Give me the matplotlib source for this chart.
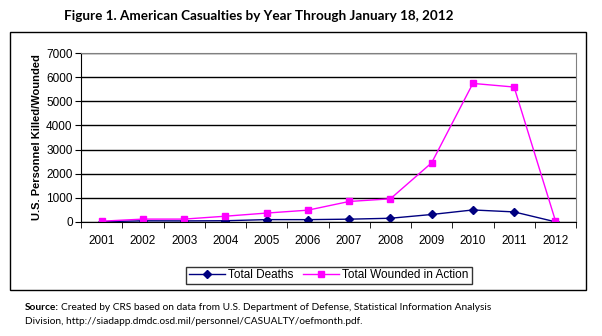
import matplotlib
matplotlib.use("Agg")
import matplotlib.pyplot as plt
from matplotlib.patches import Rectangle
import numpy as np

years = ["2001", "2002", "2003", "2004", "2005", "2006",
         "2007", "2008", "2009", "2010", "2011", "2012"]
deaths = [12, 49, 45, 52, 99, 98, 117, 155, 311, 499, 418, 8]
wounded = [33, 120, 120, 240, 370, 490, 850, 960, 2450, 5740, 5590, 60]
yticks = [0, 1000, 2000, 3000, 4000, 5000, 6000, 7000]

plt.rcParams['font.family'] = ['Liberation Sans', 'DejaVu Sans']

fig = plt.figure(figsize=(6.02, 3.36), dpi=100)
W, H = 602, 336

# outer frame around chart
fig.patches.append(Rectangle((10 / W, 1 - 290 / H), 576 / W, 258 / H,
                             transform=fig.transFigure, fill=False,
                             edgecolor="black", linewidth=1.0))

ax = fig.add_axes([81 / W, 1 - 222 / H, 495 / W, 169 / H])
x = np.arange(len(years))
ax.plot(x, deaths, color="#000080", marker="D", markersize=4,
        linewidth=1.0, label="Total Deaths")
ax.plot(x, wounded, color="#FF00FF", marker="s", markersize=5,
        linewidth=1.0, label="Total Wounded in Action")

ax.set_xlim(-0.5, len(years) - 0.5)
ax.set_ylim(0, 7000)
ax.set_yticks(yticks)
ax.set_yticklabels([str(v) for v in yticks], fontsize=8.5)
ax.set_xticks(x)
ax.set_xticklabels(years, fontsize=8.5)
ax.set_xticks(np.arange(-0.5, len(years)), minor=True)
ax.tick_params(axis="x", which="major", length=0, pad=9)
ax.tick_params(axis="x", which="minor", length=4, direction="out")
ax.tick_params(axis="y", length=4, direction="out", pad=2)
ax.yaxis.grid(True, color="black", linewidth=1.0)
ax.set_axisbelow(True)
for s in ["top", "right"]:
    ax.spines[s].set_color("#808080")
ax.set_ylabel("U.S. Personnel Killed/Wounded", fontsize=8, fontweight="bold",
              labelpad=3)

fig.legend(loc="center", bbox_to_anchor=(329 / W, 1 - 275.5 / H), ncol=2,
           fontsize=8.5, frameon=True, fancybox=False, edgecolor="black",
           handlelength=3.0, handletextpad=0.3, columnspacing=0.8,
           borderpad=0.25, borderaxespad=0)

fig.text(259 / W, 1 - 16 / H,
         "Figure 1. American Casualties by Year Through January 18, 2012",
         ha="center", va="center", fontsize=9.7, fontweight="bold",
         family=["Lato", "DejaVu Sans"])

fig.text(25 / W, 1 - 308 / H, "Source:", ha="left", va="center",
         fontsize=7.3, fontweight="bold", family=["Lato", "DejaVu Sans"])
fig.text(61 / W, 1 - 308 / H,
         "Created by CRS based on data from U.S. Department of Defense, "
         "Statistical Information Analysis",
         ha="left", va="center", fontsize=7.3, family=["Lato", "DejaVu Sans"])
fig.text(25 / W, 1 - 322 / H,
         "Division, http://siadapp.dmdc.osd.mil/personnel/CASUALTY/oefmonth.pdf.",
         ha="left", va="center", fontsize=7.3, family=["Lato", "DejaVu Sans"])

fig.savefig("out.png", dpi=100)
